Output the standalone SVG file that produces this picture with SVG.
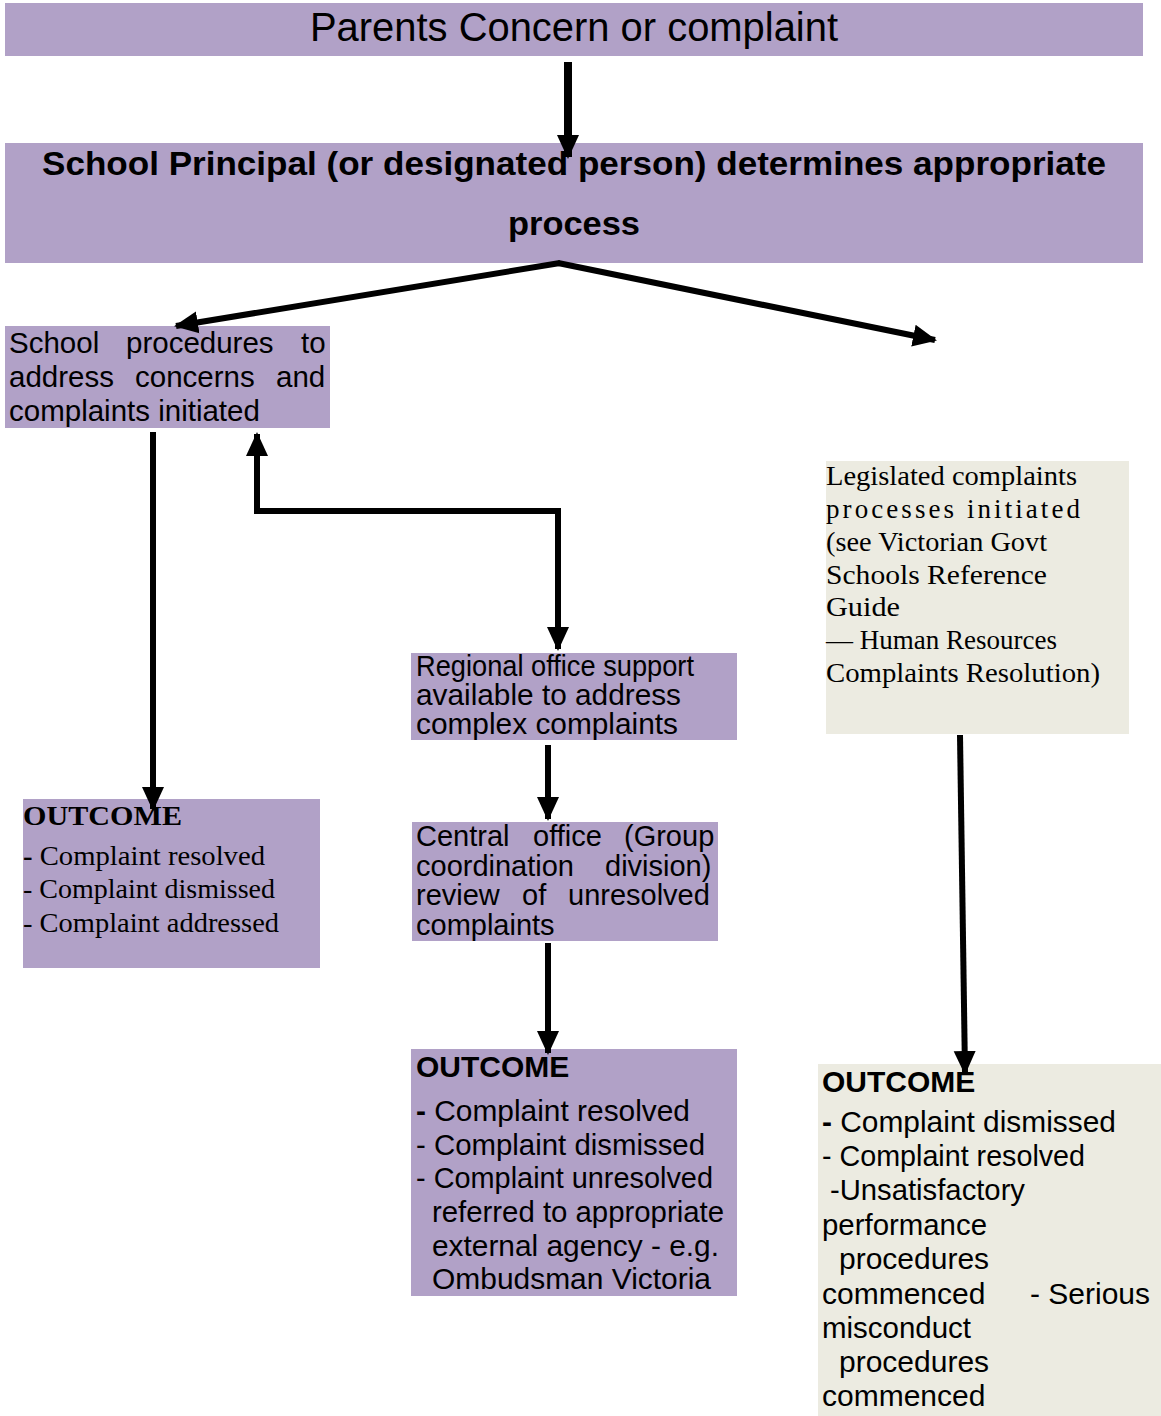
<svg xmlns="http://www.w3.org/2000/svg" width="1161" height="1416" viewBox="0 0 1161 1416">
<style>
.p{fill:#b1a1c7}
.b{fill:#ecebe1}
.s{font-family:"Liberation Sans",Arial,sans-serif;fill:#000}
.r{font-family:"Liberation Serif","Times New Roman",serif;fill:#000}
.bd{font-weight:bold}
.c{stroke:#000;stroke-width:6;fill:none}
</style>
<defs>
<marker id="ah" markerUnits="userSpaceOnUse" markerWidth="24" markerHeight="24" viewBox="0 0 24 24" refX="22" refY="12" orient="auto">
<path d="M0,1 L24,12 L0,23 Z" fill="#000"/>
</marker>
</defs>
<rect width="1161" height="1416" fill="#fff"/>

<g id="parents">
<rect class="p" x="5" y="3" width="1138" height="53"/>
<text class="s" x="310" y="41" font-size="40" textLength="528" lengthAdjust="spacingAndGlyphs">Parents Concern or complaint</text>
</g>

<g id="principal">
<rect class="p" x="5" y="143" width="1138" height="120"/>
<text class="s bd" x="42" y="175" font-size="33" textLength="1064" lengthAdjust="spacingAndGlyphs">School Principal (or designated person) determines appropriate</text>
<text class="s bd" x="508" y="235" font-size="34" textLength="132" lengthAdjust="spacingAndGlyphs">process</text>
</g>

<g id="school-procedures">
<rect class="p" x="5" y="326" width="325" height="102"/>
<text class="s" font-size="29.5" y="353"><tspan x="9">School</tspan><tspan x="126">procedures</tspan><tspan x="301">to</tspan></text>
<text class="s" font-size="29.5" y="387"><tspan x="9">address</tspan><tspan x="135">concerns</tspan><tspan x="276">and</tspan></text>
<text class="s" font-size="29.5" y="421" x="9">complaints initiated</text>
</g>

<g id="legislated">
<rect class="b" x="826" y="461" width="303" height="273"/>
<text class="r" font-size="27" x="826" y="485" textLength="251" lengthAdjust="spacingAndGlyphs">Legislated complaints</text>
<text class="r" font-size="27" x="826" y="518" textLength="254" lengthAdjust="spacing">processes initiated</text>
<text class="r" font-size="27" x="826" y="551" textLength="221" lengthAdjust="spacingAndGlyphs">(see Victorian Govt</text>
<text class="r" font-size="27" x="826" y="584" textLength="221" lengthAdjust="spacingAndGlyphs">Schools Reference</text>
<text class="r" font-size="27" x="826" y="616" textLength="74" lengthAdjust="spacingAndGlyphs">Guide</text>
<text class="r" font-size="27" x="826" y="649" textLength="231" lengthAdjust="spacingAndGlyphs">— Human Resources</text>
<text class="r" font-size="27" x="826" y="682" textLength="274" lengthAdjust="spacingAndGlyphs">Complaints Resolution)</text>
</g>

<g id="regional">
<rect class="p" x="411" y="653" width="326" height="87"/>
<text class="s" font-size="29" x="416" y="676" textLength="278" lengthAdjust="spacingAndGlyphs">Regional office support</text>
<text class="s" font-size="29" x="416" y="705" textLength="265" lengthAdjust="spacingAndGlyphs">available to address</text>
<text class="s" font-size="29" x="416" y="734" textLength="262" lengthAdjust="spacingAndGlyphs">complex complaints</text>
</g>

<g id="central">
<rect class="p" x="412" y="822" width="306" height="119"/>
<text class="s" font-size="29" y="846"><tspan x="416">Central</tspan><tspan x="533">office</tspan><tspan x="624">(Group</tspan></text>
<text class="s" font-size="29" y="876"><tspan x="416">coordination</tspan><tspan x="605">division)</tspan></text>
<text class="s" font-size="29" y="905"><tspan x="416">review</tspan><tspan x="522">of</tspan><tspan x="568">unresolved</tspan></text>
<text class="s" font-size="29" y="935" x="416">complaints</text>
</g>

<g id="outcome-left">
<rect class="p" x="23" y="799" width="297" height="169"/>
<text class="r bd" font-size="27" x="23" y="825" textLength="159" lengthAdjust="spacingAndGlyphs">OUTCOME</text>
<text class="r" font-size="27" x="23" y="865" textLength="242" lengthAdjust="spacingAndGlyphs"><tspan class="bd">-</tspan> Complaint resolved</text>
<text class="r" font-size="27" x="23" y="898" textLength="252" lengthAdjust="spacingAndGlyphs">- Complaint dismissed</text>
<text class="r" font-size="27" x="23" y="932" textLength="256" lengthAdjust="spacingAndGlyphs">- Complaint addressed</text>
</g>

<g id="outcome-center">
<rect class="p" x="411" y="1049" width="326" height="247"/>
<text class="s bd" font-size="30" x="416" y="1077">OUTCOME</text>
<text class="s" font-size="30" x="416" y="1121" textLength="274" lengthAdjust="spacingAndGlyphs"><tspan class="bd">-</tspan> Complaint resolved</text>
<text class="s" font-size="30" x="416" y="1155" textLength="289" lengthAdjust="spacingAndGlyphs">- Complaint dismissed</text>
<text class="s" font-size="30" x="416" y="1188" textLength="297" lengthAdjust="spacingAndGlyphs">- Complaint unresolved</text>
<text class="s" font-size="30" x="432" y="1222" textLength="292" lengthAdjust="spacingAndGlyphs">referred to appropriate</text>
<text class="s" font-size="30" x="432" y="1256" textLength="287" lengthAdjust="spacingAndGlyphs">external agency - e.g.</text>
<text class="s" font-size="30" x="432" y="1289" textLength="279" lengthAdjust="spacingAndGlyphs">Ombudsman Victoria</text>
</g>

<g id="outcome-right">
<rect class="b" x="818" y="1064" width="343" height="352"/>
<text class="s bd" font-size="30" x="822" y="1092">OUTCOME</text>
<text class="s" font-size="30" x="822" y="1132" textLength="294" lengthAdjust="spacingAndGlyphs"><tspan class="bd">-</tspan> Complaint dismissed</text>
<text class="s" font-size="30" x="822" y="1166" textLength="263" lengthAdjust="spacingAndGlyphs">- Complaint resolved</text>
<text class="s" font-size="30" x="830" y="1200" textLength="195" lengthAdjust="spacingAndGlyphs">-Unsatisfactory</text>
<text class="s" font-size="30" x="822" y="1235" textLength="165" lengthAdjust="spacingAndGlyphs">performance</text>
<text class="s" font-size="30" x="839" y="1269">procedures</text>
<text class="s" font-size="30" y="1304"><tspan x="822">commenced</tspan><tspan x="1030">- Serious</tspan></text>
<text class="s" font-size="30" x="822" y="1338" textLength="149" lengthAdjust="spacingAndGlyphs">misconduct</text>
<text class="s" font-size="30" x="839" y="1372">procedures</text>
<text class="s" font-size="30" x="822" y="1406">commenced</text>
</g>

<g id="connectors">
<line x1="568" y1="62" x2="568" y2="157" stroke="#000" stroke-width="8" marker-end="url(#ah)"/>
<line class="c" x1="560" y1="263" x2="176" y2="326" marker-end="url(#ah)"/>
<line class="c" x1="558" y1="263" x2="935" y2="340" marker-end="url(#ah)"/>
<line class="c" x1="153" y1="432" x2="153" y2="809" marker-end="url(#ah)"/>
<polyline class="c" points="558,511 257,511 257,434" marker-end="url(#ah)"/>
<line class="c" x1="558" y1="508" x2="558" y2="649" marker-end="url(#ah)"/>
<line class="c" x1="548" y1="745" x2="548" y2="819" marker-end="url(#ah)"/>
<line class="c" x1="548" y1="943" x2="548" y2="1053" marker-end="url(#ah)"/>
<line class="c" x1="960" y1="735" x2="965" y2="1073" marker-end="url(#ah)"/>
</g>
</svg>
